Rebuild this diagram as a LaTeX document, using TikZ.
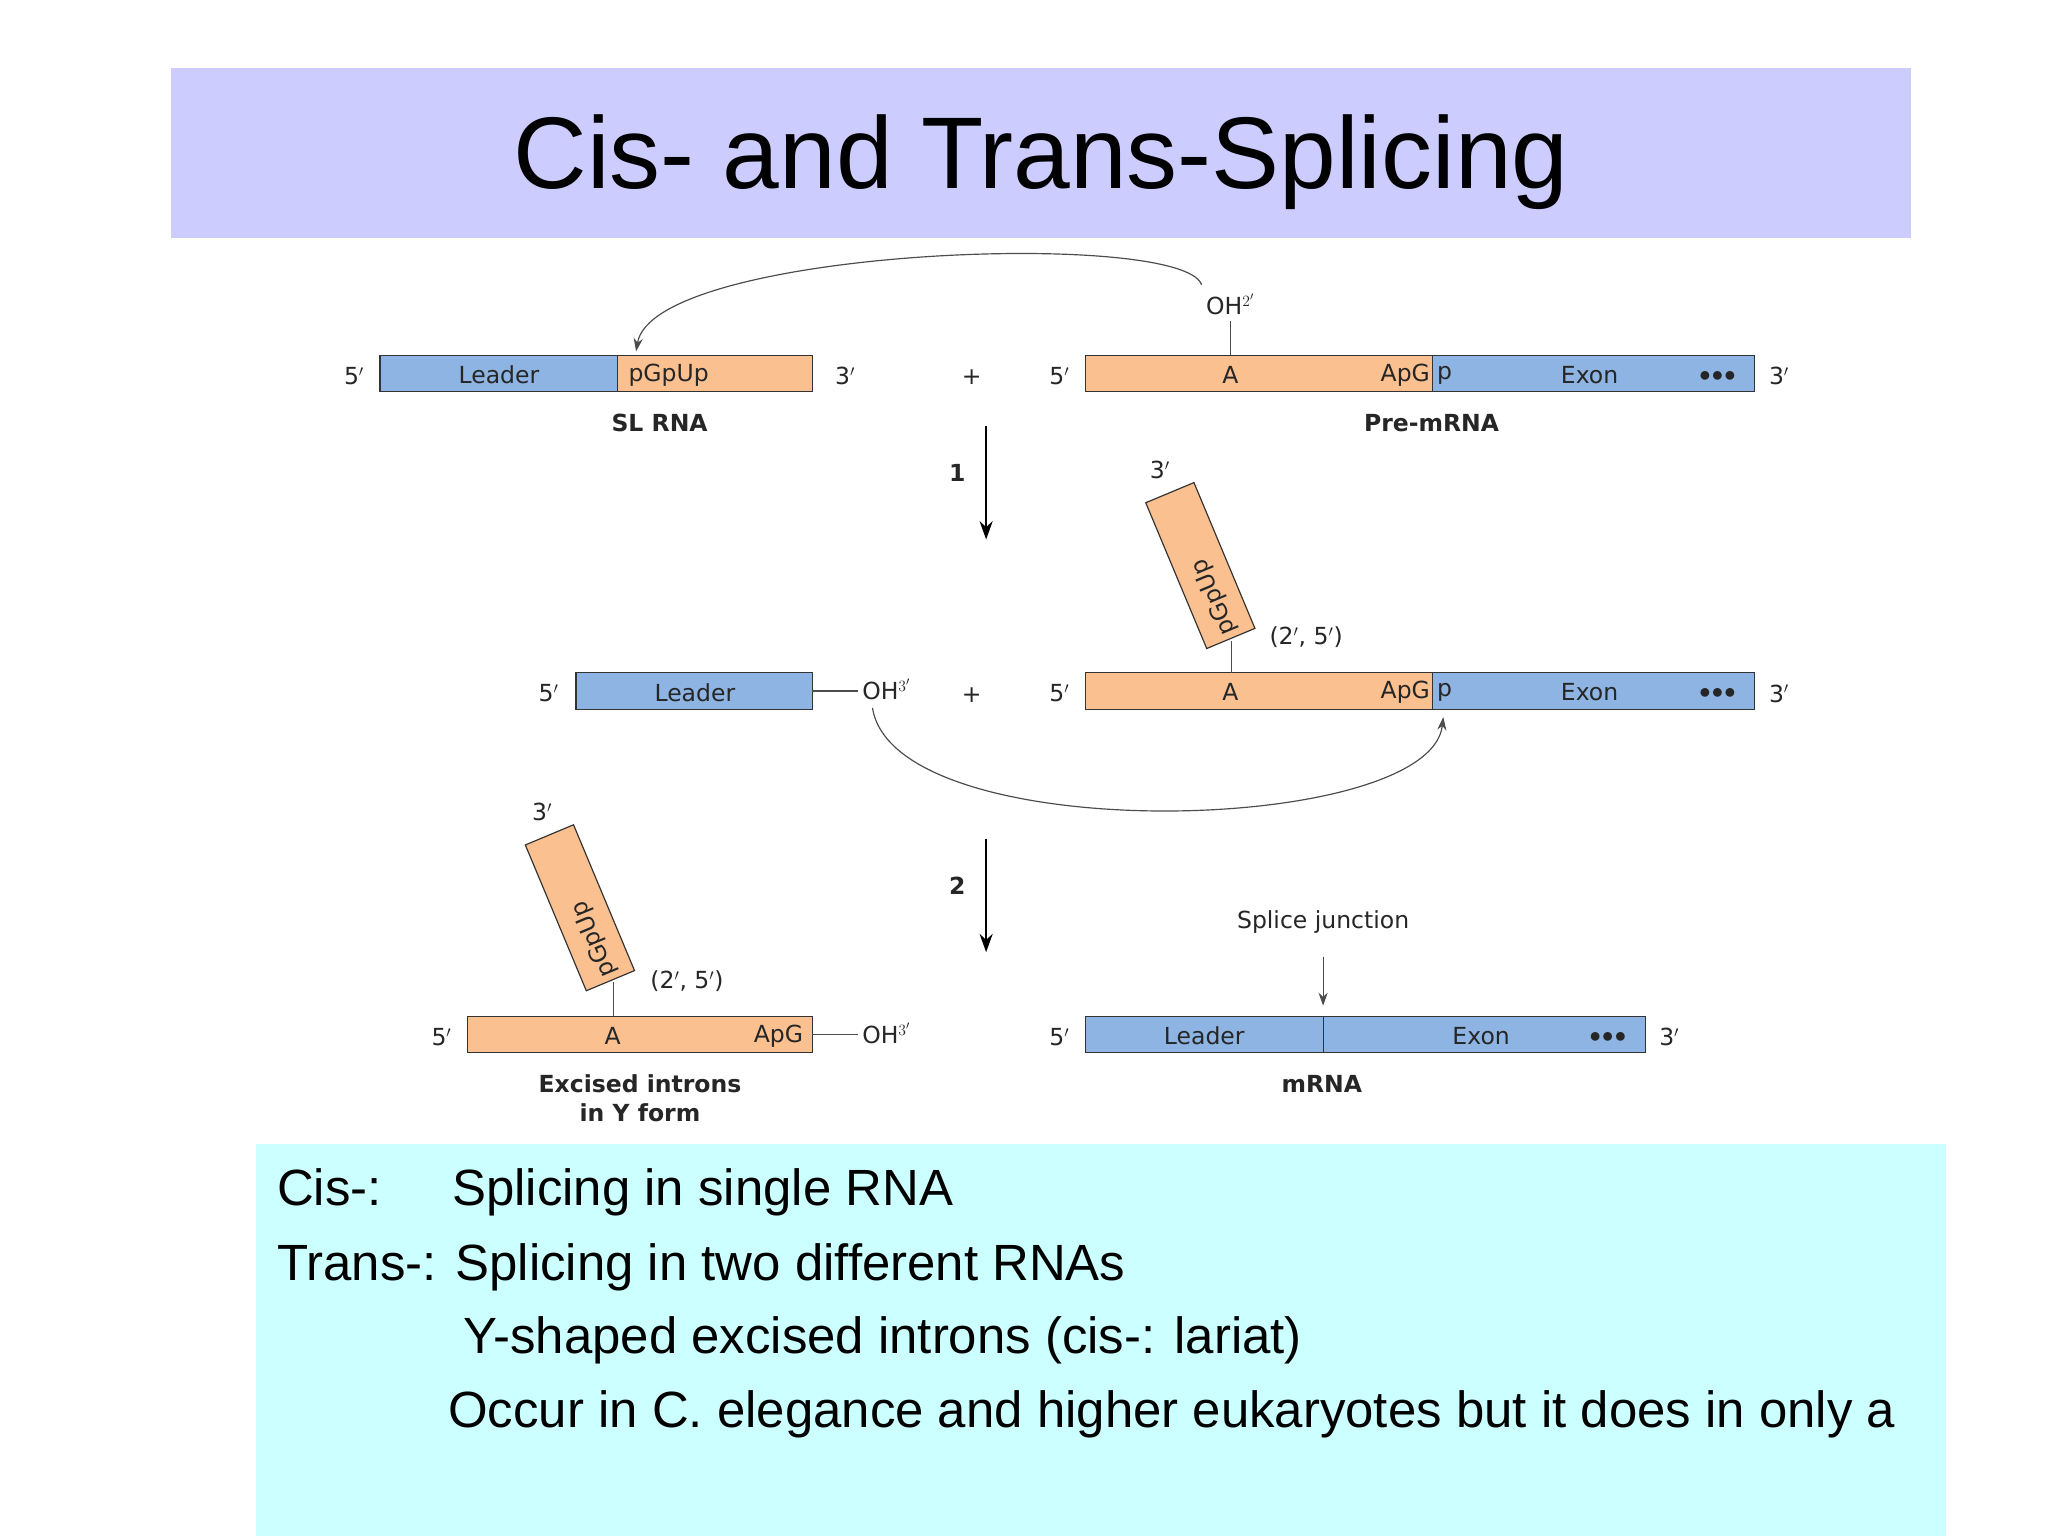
\documentclass[tikz,border=0pt]{standalone}
\usepackage{fontspec}
\setmainfont{Liberation Sans}
\newfontfamily\dg{DejaVu Sans}
\usetikzlibrary{arrows.meta}
\definecolor{bl}{HTML}{8DB4E2}
\definecolor{or}{HTML}{FAC08F}
\begin{document}
\begin{tikzpicture}[x=1pt,y=-1pt,
  seg/.style={draw=black!80,line width=0.9pt},
  lab/.style={font=\dg\fontsize{18}{20}\selectfont,text=black!85,inner sep=0pt},
  blab/.style={font=\dg\bfseries\fontsize{18}{22}\selectfont,text=black!85,inner sep=0pt,align=center},
  arr/.style={line width=1.4pt,-{Stealth[length=14pt,width=10pt]}},
  thin/.style={line width=0.9pt,black!70},
  tip/.style={thin,-{Stealth[length=10pt,width=7pt]}},
  big/.style={font=\fontsize{39}{44}\selectfont,anchor=base west,inner sep=0pt}]
\useasboundingbox (0,0) rectangle (1568,1176);
\fill[white] (0,0) rectangle (1568,1176);
% title
\fill[fill={rgb,255:red,204;green,204;blue,255}] (131,52) rectangle (1463,182);
\node[font=\fontsize{78}{84}\selectfont] (title) at (797,124) {Cis- and Trans-Splicing};
% bottom box
\fill[fill={rgb,255:red,204;green,255;blue,255}] (196,876) rectangle (1490,1176);
\node[big] (t1) at (212,923) {Cis-:};
\node[big] (t1b) at (346,923) {Splicing in single RNA};
\node[big] (t2) at (212,980) {Trans-: Splicing in two different RNAs};
\node[big] (t3) at (355,1036) {Y-shaped excised introns (cis-: lariat)};
\node[big] (t4) at (343,1093) {Occur in C. elegance and higher eukaryotes but it does in only a};
% ---- row 1
\draw[seg,fill=bl] (291,272) rectangle (473,300);
\draw[seg,fill=or] (473,272) rectangle (622,300);
\node[lab] (l1) at (382,287) {Leader};
\node[lab,anchor=west] (p1) at (481,287) {pGpUp};
\node[lab] at (271,288) {5$'$};
\node[lab] at (647,288) {3$'$};
\node[lab] at (744,289) {+};
\node[blab] at (505,324) {SL RNA};
\draw[seg,fill=or] (831,272) rectangle (1097,300);
\draw[seg,fill=bl] (1097,272) rectangle (1343,300);
\node[lab] (A1) at (942,287) {A};
\node[lab,anchor=east] at (1095,287) {ApG};
\node[lab,anchor=west] at (1100,287) {p};
\node[lab] at (1217,287) {Exon};
\node[lab] at (1315,288) {$\bullet\!\bullet\!\bullet$};
\node[lab] at (811,288) {5$'$};
\node[lab] at (1362,288) {3$'$};
\node[blab] at (1096,324) {Pre-mRNA};
\node[lab] (oh2) at (942,233) {OH$^{2'}$};
\draw[thin] (942,246) -- (942,272);
\coordinate (s1) at (920,218);
\coordinate (e1) at (487,269);
\draw[tip] (s1) .. controls (905,175) and (500,190) .. (e1);
% step 1
\draw[arr] (755,326) -- (755,413);
\node[blab] at (733,362) {1};
% ---- row 2
\draw[seg,fill=bl] (441,515) rectangle (622,543);
\node[lab] at (532,530) {Leader};
\node[lab] at (420,531) {5$'$};
\draw[thin] (622,529) -- (657,529);
\node[lab,anchor=west] (oh3a) at (660,528) {OH$^{3'}$};
\node[lab] at (744,532) {+};
\draw[seg,fill=or] (831,515) rectangle (1097,543);
\draw[seg,fill=bl] (1097,515) rectangle (1343,543);
\node[lab] (A2) at (942,530) {A};
\node[lab,anchor=east] at (1095,530) {ApG};
\node[lab,anchor=west] at (1100,530) {p};
\node[lab] at (1217,530) {Exon};
\node[lab] at (1315,531) {$\bullet\!\bullet\!\bullet$};
\node[lab] at (811,531) {5$'$};
\node[lab] at (1362,531) {3$'$};
\draw[thin] (943,491) -- (943,515);
\node[seg,fill=or,minimum width=121pt,minimum height=40pt,rotate=112.7,inner sep=0pt] (b2) at (919,433) {};
\node[lab,rotate=112.7] at (930,457) {pGpUp};
\node[lab] at (888,360) {3$'$};
\node[lab] at (1000,488) {(2$'$, 5$'$)};
\coordinate (s2) at (668,542);
\coordinate (e2) at (1105,549);
\draw[tip] (s2) .. controls (685,650) and (1095,640) .. (e2);
% step 2
\draw[arr] (755,642) -- (755,729);
\node[blab] at (733,678) {2};
% ---- row 3
\draw[seg,fill=or] (358,778) rectangle (622,806);
\node[lab] at (469,793) {A};
\node[lab] at (596,793) {ApG};
\node[lab] at (338,794) {5$'$};
\draw[thin] (622,792) -- (657,792);
\node[lab,anchor=west] at (660,791) {OH$^{3'}$};
\draw[thin] (470,752) -- (470,778);
\node[seg,fill=or,minimum width=121pt,minimum height=40pt,rotate=112.7,inner sep=0pt] (b3) at (444,695) {};
\node[lab,rotate=112.7] at (455,719) {pGpUp};
\node[lab] at (415,622) {3$'$};
\node[lab] at (526,751) {(2$'$, 5$'$)};
\node[blab] at (490,841) {Excised introns\\in Y form};
\draw[seg,fill=bl] (831,778) rectangle (1260,806);
\draw[seg] (1013,778) -- (1013,806);
\node[lab] at (922,793) {Leader};
\node[lab] at (1134,793) {Exon};
\node[lab] at (1231,794) {$\bullet\!\bullet\!\bullet$};
\node[lab] at (811,794) {5$'$};
\node[lab] at (1278,794) {3$'$};
\node[blab] at (1012,830) {mRNA};
\node[lab] (sj) at (1013,706) {Splice junction};
\coordinate (jn) at (1013,770);
\draw[tip] (1013,733) -- (jn);
\end{tikzpicture}
\end{document}
